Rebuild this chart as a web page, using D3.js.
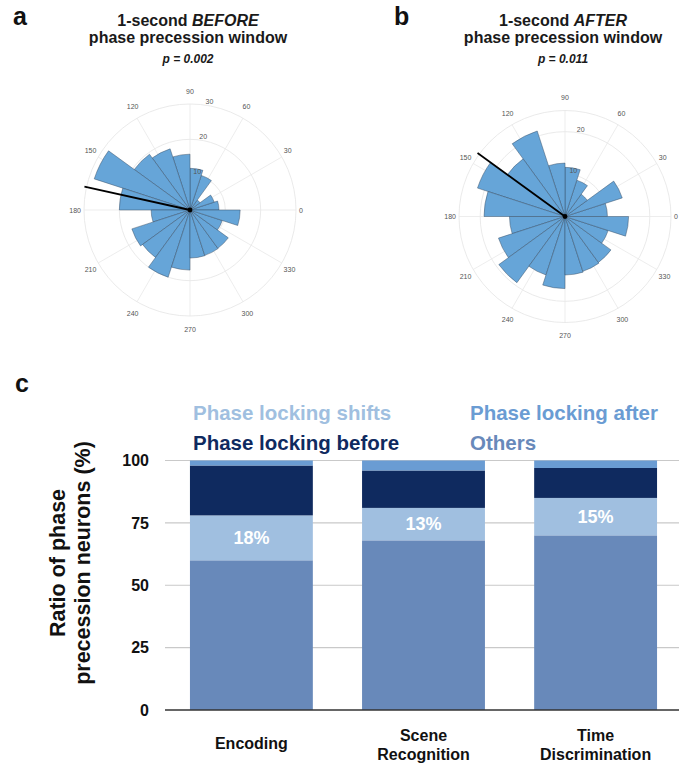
<!DOCTYPE html>
<html>
<head>
<meta charset="utf-8">
<script src="https://cdn.jsdelivr.net/npm/d3@7"></script>
<style>
  body { margin: 0; background: #fff; }
  svg text { font-family: "Liberation Sans", Arial, Helvetica, sans-serif; }
</style>
</head>
<body>
<div id="main"></div>
<script>
/// data ///

// polar histograms, 20 bins of 18 degrees starting at 0 (counter clockwise)
const binWidth = 18;
const countsBefore = [8.2, 7.2, 3.5, 10.3, 11.8, 15.8, 18.2, 19.5, 28.5, 20, 11, 17.3, 16.6, 20, 17, 13.6, 13.5, 13.4, 9.6, 14.2];
const countsAfter  = [10, 14.2, 6.5, 9, 11.6, 12.6, 21.2, 16.8, 21.7, 19.1, 13.1, 16.5, 19.3, 14.5, 17, 13.8, 13.6, 13.4, 10.7, 15];
const meanBefore = 167.5;      // mean phase (deg)
const meanAfter = 144;
const angleTicks = [0, 30, 60, 90, 120, 150, 180, 210, 240, 270, 300, 330];
const rTicksBefore = [10, 20, 30];
const rTicksAfter = [10, 20];

// stacked bars (%)
const tasks = ['Encoding', 'Scene Recognition', 'Time Discrimination'];
const taskLines = [['Encoding'], ['Scene', 'Recognition'], ['Time', 'Discrimination']];
const others = [60, 68, 70];
const shifts = [18, 13, 15];
const before = [20, 15, 12];
const after  = [2, 4, 3];
const yTicks = [0, 25, 50, 75, 100];

const w = 679, h = 764;
const svg = d3.select('#main').append('svg')
    .attr('width', w)
    .attr('height', h);

const rad = d => d * Math.PI / 180;

/// rose plot ///
function rose(cx, cy, counts, rMax, rTicks, meanAng) {
    const R = 106;
    const r = d3.scaleLinear().domain([0, rMax]).range([0, R]);
    const g = svg.append('g').attr('transform', `translate(${cx},${cy})`);

    // grid
    g.selectAll('circle.grid')
        .data(rTicks.concat(rTicks.includes(rMax) ? [] : [rMax]))
        .enter().append('circle')
        .attr('r', d => r(d))
        .attr('fill', 'none')
        .attr('stroke', '#e4e4e4')
        .attr('stroke-width', 0.8);

    g.selectAll('line.spoke')
        .data(angleTicks)
        .enter().append('line')
        .attr('x2', d => R * Math.cos(rad(d)))
        .attr('y2', d => -R * Math.sin(rad(d)))
        .attr('stroke', '#e8e8e8')
        .attr('stroke-width', 0.8);

    // bars -- d3.arc measures clockwise from 12 o'clock
    const arc = d3.arc()
        .innerRadius(0)
        .outerRadius(d => r(d.v))
        .startAngle(d => rad(90 - (d.i + 1) * binWidth))
        .endAngle(d => rad(90 - d.i * binWidth));

    g.selectAll('path.bin')
        .data(counts.map((v, i) => ({ v, i })))
        .enter().append('path')
        .attr('d', arc)
        .attr('fill', '#66a5d8')
        .attr('stroke', '#33485e')
        .attr('stroke-opacity', 0.75)
        .attr('stroke-width', 0.6);

    // theta labels
    g.selectAll('text.theta')
        .data(angleTicks)
        .enter().append('text')
        .attr('text-anchor', 'middle')
        .attr('dominant-baseline', 'central')
        .attr('font-size', 7)
        .attr('fill', '#555')
        .text(d => d)
        .each(function (d) {
            const tw = this.getComputedTextLength();
            const c = Math.cos(rad(d)), s = Math.sin(rad(d));
            d3.select(this)
                .attr('x', c * (109 + tw / 2))
                .attr('y', -s * 119);
        });

    // r labels along 80 deg
    g.selectAll('text.rtick')
        .data(rTicks)
        .enter().append('text')
        .attr('x', d => r(d) * Math.cos(rad(80)) + 1)
        .attr('y', d => -r(d) * Math.sin(rad(80)) - 4)
        .attr('text-anchor', 'middle')
        .attr('dominant-baseline', 'central')
        .attr('font-size', 7)
        .attr('fill', '#555')
        .text(d => d);

    // mean direction
    const L = r(rMax) * 1.02;
    g.append('line')
        .attr('x2', L * Math.cos(rad(meanAng)))
        .attr('y2', -L * Math.sin(rad(meanAng)))
        .attr('stroke', '#000')
        .attr('stroke-width', 1.8);
    g.append('circle').attr('r', 2.4).attr('fill', '#000');
}

function title(cx, label, lx, word, p) {
    svg.append('text')
        .attr('x', lx).attr('y', 25)
        .attr('font-size', 25).attr('font-weight', 'bold').attr('fill', '#111')
        .text(label);
    const t1 = svg.append('text')
        .attr('x', cx).attr('y', 25.5)
        .attr('text-anchor', 'middle')
        .attr('font-size', 16).attr('font-weight', 'bold').attr('fill', '#1a1a1a');
    t1.append('tspan').text('1-second ');
    t1.append('tspan').attr('font-style', 'italic').text(word);
    svg.append('text')
        .attr('x', cx).attr('y', 42.5)
        .attr('text-anchor', 'middle')
        .attr('font-size', 16).attr('font-weight', 'bold').attr('fill', '#1a1a1a')
        .text('phase precession window');
    svg.append('text')
        .attr('x', cx).attr('y', 63)
        .attr('text-anchor', 'middle')
        .attr('font-size', 12).attr('font-weight', 'bold').attr('font-style', 'italic')
        .attr('fill', '#1a1a1a')
        .text(p);
}

title(188, 'a', 13, 'BEFORE', 'p = 0.002');
title(563, 'b', 394, 'AFTER', 'p = 0.011');
rose(190, 210, countsBefore, 30, rTicksBefore, meanBefore);
rose(565, 216.5, countsAfter, 25, rTicksAfter, meanAfter);

/// panel c: stacked bars ///
svg.append('text')
    .attr('x', 15).attr('y', 392)
    .attr('font-size', 25).attr('font-weight', 'bold').attr('fill', '#111')
    .text('c');

const colors = {
    others: '#6889ba',
    shifts: '#a0bfe0',
    before: '#0f2a5f',
    after:  '#6a9cd3'
};

const x = d3.scaleBand()
    .domain(tasks)
    .range([165, 682])
    .paddingInner(0.286)
    .paddingOuter(0.145);

const y = d3.scaleLinear().domain([0, 100]).range([710, 460.5]);

// gridlines
svg.append('g')
    .selectAll('line')
    .data(yTicks.slice(1))
    .enter().append('line')
    .attr('x1', 165).attr('x2', w)
    .attr('y1', d => y(d)).attr('y2', d => y(d))
    .attr('stroke', '#c9c9c9')
    .attr('stroke-width', 1.2);

// y axis labels
const yAxis = d3.axisLeft(y).tickValues(yTicks).tickSize(0).tickPadding(0);
const ya = svg.append('g')
    .attr('transform', 'translate(149,0)')
    .call(yAxis);
ya.select('.domain').remove();
ya.selectAll('text')
    .attr('font-size', 16)
    .attr('font-weight', 'bold')
    .attr('font-family', '"Liberation Sans", Arial, sans-serif')
    .attr('fill', '#111');

// stack
const rows = tasks.map((t, i) => ({
    task: t, others: others[i], shifts: shifts[i], before: before[i], after: after[i]
}));
const keys = ['others', 'shifts', 'before', 'after'];
const series = d3.stack().keys(keys)(rows);

svg.append('g')
    .selectAll('g')
    .data(series)
    .enter().append('g')
    .attr('fill', d => colors[d.key])
    .selectAll('rect')
    .data(d => d)
    .enter().append('rect')
    .attr('x', d => x(d.data.task))
    .attr('width', x.bandwidth())
    .attr('y', d => y(d[1]))
    .attr('height', d => y(d[0]) - y(d[1]));

// percent labels for phase locking shifts
svg.append('g')
    .selectAll('text')
    .data(series[1])
    .enter().append('text')
    .attr('x', d => x(d.data.task) + x.bandwidth() / 2)
    .attr('y', d => (y(d[0]) + y(d[1])) / 2)
    .attr('text-anchor', 'middle')
    .attr('dominant-baseline', 'central')
    .attr('font-size', 18)
    .attr('font-weight', 'bold')
    .attr('fill', '#fff')
    .text(d => d.data.shifts + '%');

// zero line
svg.append('line')
    .attr('x1', 165).attr('x2', w)
    .attr('y1', y(0)).attr('y2', y(0))
    .attr('stroke', '#333')
    .attr('stroke-width', 1.5);

// category labels
taskLines.forEach((lines, i) => {
    const cx = x(tasks[i]) + x.bandwidth() / 2;
    const y0 = lines.length === 1 ? 749 : 741;
    lines.forEach((s, j) => {
        svg.append('text')
            .attr('x', cx).attr('y', y0 + j * 19)
            .attr('text-anchor', 'middle')
            .attr('font-size', 16).attr('font-weight', 'bold').attr('fill', '#111')
            .text(s);
    });
});

// y title
const yt = svg.append('text')
    .attr('transform', 'translate(0,563) rotate(-90)')
    .attr('text-anchor', 'middle')
    .attr('font-size', 21.5).attr('font-weight', 'bold').attr('fill', '#111');
yt.append('tspan').attr('x', 0).attr('y', 65).text('Ratio of phase');
yt.append('tspan').attr('x', 0).attr('y', 90).text('precession neurons (%)');

// legend
const legend = [
    { key: 'shifts', label: 'Phase locking shifts', x: 193, y: 420 },
    { key: 'after',  label: 'Phase locking after',  x: 470, y: 420 },
    { key: 'before', label: 'Phase locking before', x: 193, y: 450 },
    { key: 'others', label: 'Others',               x: 470, y: 450 }
];
svg.append('g')
    .selectAll('text')
    .data(legend)
    .enter().append('text')
    .attr('x', d => d.x).attr('y', d => d.y)
    .attr('font-size', 20.5).attr('font-weight', 'bold')
    .attr('fill', d => colors[d.key])
    .text(d => d.label);
</script>
</body>
</html>
